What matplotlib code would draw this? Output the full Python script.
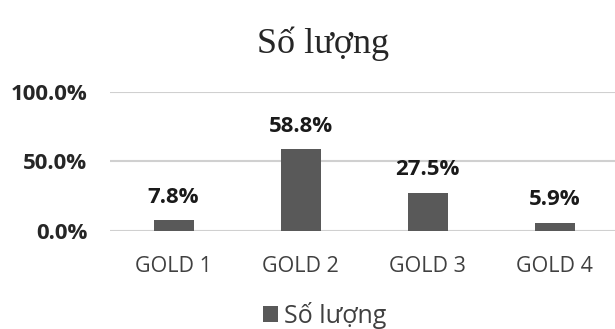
import matplotlib
matplotlib.use("Agg")
import matplotlib.pyplot as plt
from matplotlib.ticker import FuncFormatter

categories = ["GOLD 1", "GOLD 2", "GOLD 3", "GOLD 4"]
values = [7.8, 58.8, 27.5, 5.9]
yticks = [0, 50, 100]
series_name = "Số lượng"
title = "Số lượng"

plt.rcParams['font.family'] = ['Open Sans', 'DejaVu Sans']

fig = plt.figure(figsize=(6.15, 3.29), dpi=100)
ax = fig.add_axes([0.179, 0.298, 0.826, 0.4225])
x = range(len(categories))
bars = ax.bar(x, values, width=0.315, color="#595959", label=series_name, zorder=3)
ax.set_xlim(-0.5, len(categories) - 0.5)
ax.set_ylim(0, 100)
ax.set_yticks(yticks)
ax.yaxis.set_major_formatter(FuncFormatter(lambda v, p: f"{v:.1f}%"))
ax.set_xticks(list(x))
ax.set_xticklabels(categories, fontsize=15.5, color="#404040")
for lab in ax.get_yticklabels():
    lab.set_fontweight("bold")
    lab.set_fontsize(16)
    lab.set_color("#262626")
ax.tick_params(axis="both", length=0)
ax.tick_params(axis="x", pad=18)
ax.tick_params(axis="y", pad=16.5)
ax.grid(axis="y", color="#d0d0d0", linewidth=1.5, zorder=0)
for s in ax.spines.values():
    s.set_visible(False)
for b, v in zip(bars, values):
    ax.annotate(f"{v:.1f}%", (b.get_x() + b.get_width() / 2, v), xytext=(0, 9),
                textcoords="offset points", ha="center", va="bottom",
                fontsize=16, fontweight="bold", color="#1a1a1a")
fig.text(0.525, 0.868, title, ha="center", va="center", fontsize=26,
         family="Liberation Serif", color="#262626")
leg = fig.legend(loc="center", bbox_to_anchor=(0.528, 0.042), frameon=False,
                 fontsize=18, handlelength=0.6, handleheight=0.6, handletextpad=0.25,
                 borderpad=0.2)
for t in leg.get_texts():
    t.set_color("#404040")
fig.savefig("out.png", dpi=100)
